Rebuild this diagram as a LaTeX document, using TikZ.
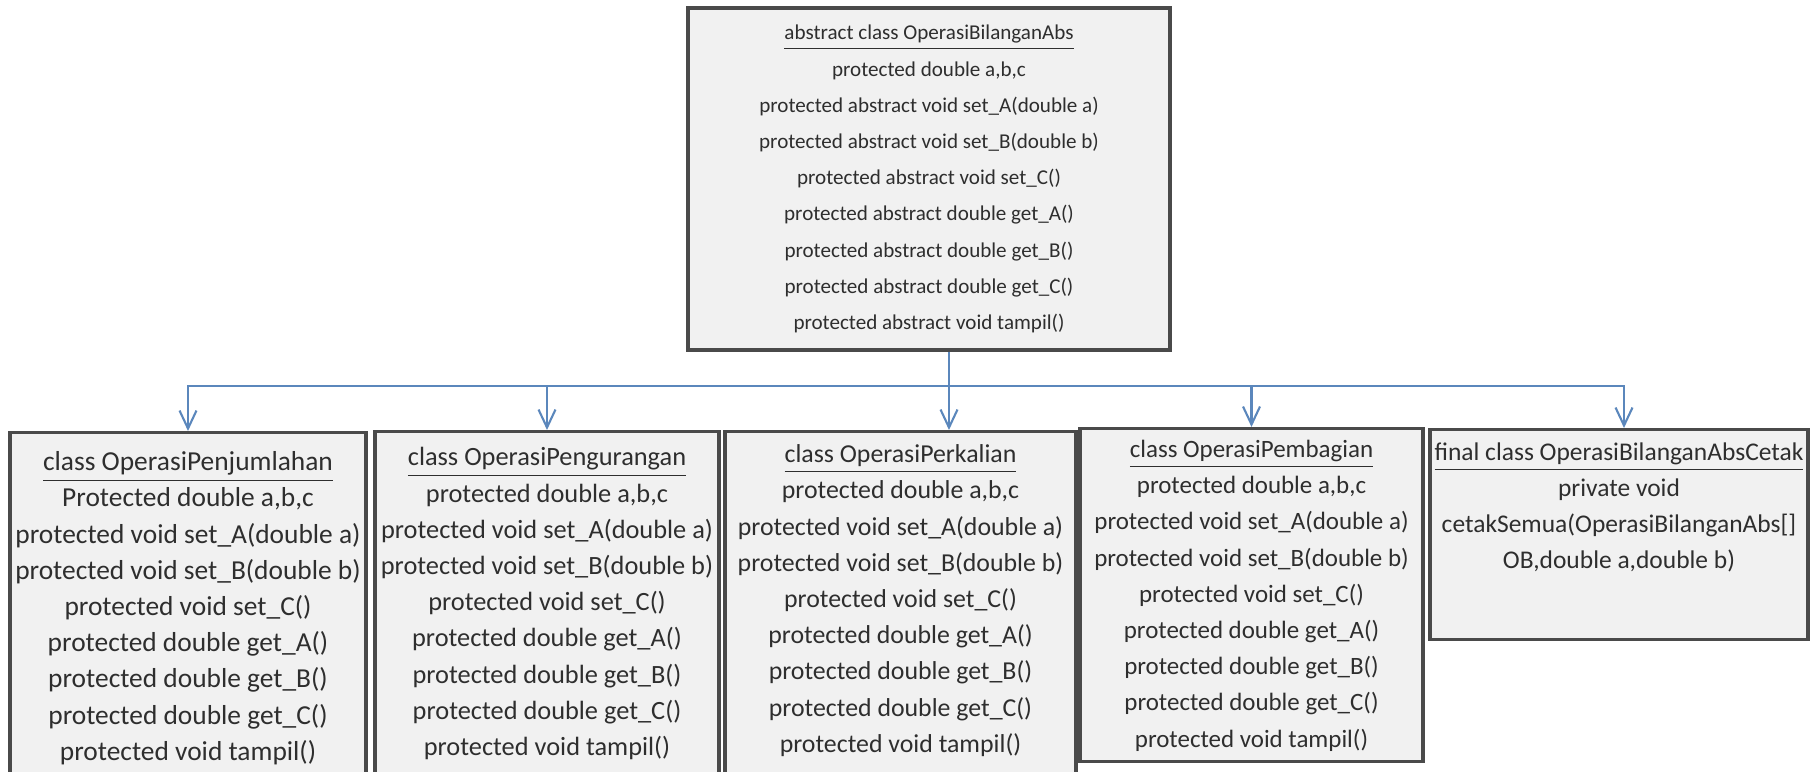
\documentclass[tikz,border=0pt]{standalone}
\usepackage{fontspec}
\setmainfont{Carlito}
\usepackage{xcolor}
\usetikzlibrary{positioning,arrows.meta}
\definecolor{boxfill}{HTML}{F1F1F1}
\definecolor{boxline}{HTML}{4A4A4A}
\definecolor{inherit}{HTML}{5B87BC}
\definecolor{membertext}{HTML}{2E2E2E}
% underlined class name that keeps the normal line pitch
\newcommand{\classtitle}[1]{\raisebox{0pt}[\height][1.6pt]{\underline{#1}}}

\begin{document}
\begin{tikzpicture}[
  classbox/.style={rectangle, draw=boxline, line width=0.9pt, fill=boxfill, inner sep=0pt},
  members/.style={align=center, inner sep=0pt, text=membertext,
                  font=\fontsize{#1}{10.3}\selectfont},
  members/.default=7.4,
  extends/.style={-{Straight Barb[length=0.18cm, width=0.17cm]}, draw=inherit, line width=0.6pt}
]
\useasboundingbox (0,0) rectangle (18.10,-7.72);
\clip (0,0) rectangle (18.10,-7.72);
% Abstract parent class on top
\node[classbox, members=6.0, minimum width=4.82cm, minimum height=3.42cm] (absclass) at (9.29,-1.79)
  {\classtitle{abstract class OperasiBilanganAbs}\\
   protected double a,b,c\\
   protected abstract void set\_A(double a)\\
   protected abstract void set\_B(double b)\\
   protected abstract void set\_C()\\
   protected abstract double get\_A()\\
   protected abstract double get\_B()\\
   protected abstract double get\_C()\\
   protected abstract void tampil()};
% Subclasses along the bottom row
\node[classbox, minimum width=3.56cm, minimum height=3.6cm, anchor=north] (jumlah) at (1.88,-4.31) {};
\node[classbox, minimum width=3.44cm, minimum height=3.6cm, anchor=north] (kurang) at (5.47,-4.30) {};
\node[classbox, minimum width=3.51cm, minimum height=3.6cm, anchor=north] (kali) at (9.005,-4.30) {};
\node[classbox, minimum width=3.43cm, minimum height=3.33cm, anchor=north] (bagi) at (12.515,-4.27) {};
\node[classbox, minimum width=3.78cm, minimum height=2.10cm, anchor=north] (cetak) at (16.19,-4.28) {};
% Member lists
\node[members=7.8, below=0.20cm of jumlah.north] (jumlahtext)
  {\classtitle{class OperasiPenjumlahan}\\
   Protected double a,b,c\\
   protected void set\_A(double a)\\
   protected void set\_B(double b)\\
   protected void set\_C()\\
   protected double get\_A()\\
   protected double get\_B()\\
   protected double get\_C()\\
   protected void tampil()};
\node[members=7.5, below=0.17cm of kurang.north] (kurangtext)
  {\classtitle{class OperasiPengurangan}\\
   protected double a,b,c\\
   protected void set\_A(double a)\\
   protected void set\_B(double b)\\
   protected void set\_C()\\
   protected double get\_A()\\
   protected double get\_B()\\
   protected double get\_C()\\
   protected void tampil()};
\node[members=7.35, below=0.14cm of kali.north] (kalitext)
  {\classtitle{class OperasiPerkalian}\\
   protected double a,b,c\\
   protected void set\_A(double a)\\
   protected void set\_B(double b)\\
   protected void set\_C()\\
   protected double get\_A()\\
   protected double get\_B()\\
   protected double get\_C()\\
   protected void tampil()};
\node[members=7.1, below=0.125cm of bagi.north] (bagitext)
  {\classtitle{class OperasiPembagian}\\
   protected double a,b,c\\
   protected void set\_A(double a)\\
   protected void set\_B(double b)\\
   protected void set\_C()\\
   protected double get\_A()\\
   protected double get\_B()\\
   protected double get\_C()\\
   protected void tampil()};
\node[members=7.25, below=0.14cm of cetak.north] (cetaktext)
  {\classtitle{final class OperasiBilanganAbsCetak}\\
   private void\\
   cetakSemua(OperasiBilanganAbs[]\\
   OB,double a,double b)};
% Inheritance arrows
\coordinate (split) at (9.49,-3.86);
\draw[extends] (absclass.south -| split) -- (kali.north -| split);
\foreach \child in {jumlah,kurang,bagi}
  \draw[extends] (split) -| (\child.north);
\draw[extends] (split) -| ([xshift=0.05cm]cetak.north);
\end{tikzpicture}
\end{document}
